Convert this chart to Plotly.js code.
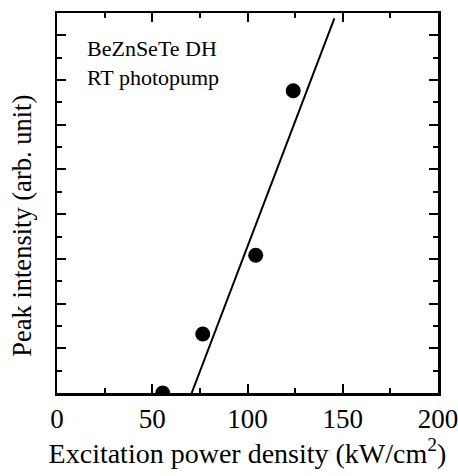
<!DOCTYPE html>
<html>
<head>
<meta charset="utf-8">
<script src="https://cdn.plot.ly/plotly-3.0.1.min.js"></script>
</head>
<body style="margin:0;background:#fff">
<div id="plot"></div>
<script>
// Measured points
var powerDensity = [55.5, 76.5, 104.3, 124.0];
var peakIntensity = [0.0, 1.32, 3.08, 6.76];
// Linear fit line (endpoints)
var fitX = [70.7, 145.6];
var fitY = [0.0, 8.38];
var xTickVals = [0, 50, 100, 150, 200];
var xTickText = ['0', '50', '100', '150', '200'];
var labelLines = ['BeZnSeTe DH', 'RT photopump'];
var xTitle = 'Excitation power density (kW/cm<sup>2</sup>)';
var yTitle = 'Peak intensity (arb. unit)';

var traces = [
  {x: fitX, y: fitY, mode: 'lines', line: {color: '#000', width: 2}, hoverinfo: 'skip'},
  {x: powerDensity, y: peakIntensity, mode: 'markers', marker: {color: '#000', size: 15}, cliponaxis: true}
];

var layout = {
  width: 458, height: 476,
  margin: {l: 57, r: 20, t: 13, b: 83},
  showlegend: false,
  xaxis: {
    showgrid: false, zeroline: false, showline: true, linecolor: '#000', linewidth: 2.5,
    mirror: 'allticks', ticks: 'inside', tickcolor: '#000', tickwidth: 2, ticklen: 9,
    range: [0, 200], tickvals: xTickVals, ticktext: xTickText,
    ticklabeloverflow: 'allow',
    tickfont: {family: 'Liberation Serif', size: 27, color: '#000'},
    minor: {dtick: 25, ticks: 'inside', ticklen: 5, tickwidth: 2, tickcolor: '#000'},
    title: {text: xTitle, font: {family: 'Liberation Serif', size: 28, color: '#000'}, standoff: 9}
  },
  yaxis: {
    showgrid: false, zeroline: false, showline: true, linecolor: '#000', linewidth: 2.5,
    mirror: 'allticks', ticks: 'inside', tickcolor: '#000', tickwidth: 2, ticklen: 9,
    range: [0, 8.5], dtick: 1, tick0: 0, showticklabels: false,
    minor: {dtick: 0.5, ticks: 'inside', ticklen: 5, tickwidth: 2, tickcolor: '#000'}
  },
  annotations: [{
    xref: 'paper', yref: 'paper', x: 0.073, y: 0.945, xanchor: 'left', yanchor: 'top', align: 'left',
    text: labelLines.join('<br>'), showarrow: false,
    font: {family: 'Liberation Serif', size: 22, color: '#000'}
  }, {
    xref: 'paper', yref: 'paper', x: -0.092, y: 0.44, xanchor: 'center', yanchor: 'middle',
    text: yTitle, textangle: -90, showarrow: false,
    font: {family: 'Liberation Serif', size: 26.5, color: '#000'}
  }]
};

Plotly.newPlot('plot', traces, layout, {displayModeBar: false, staticPlot: true});
</script>
</body>
</html>
